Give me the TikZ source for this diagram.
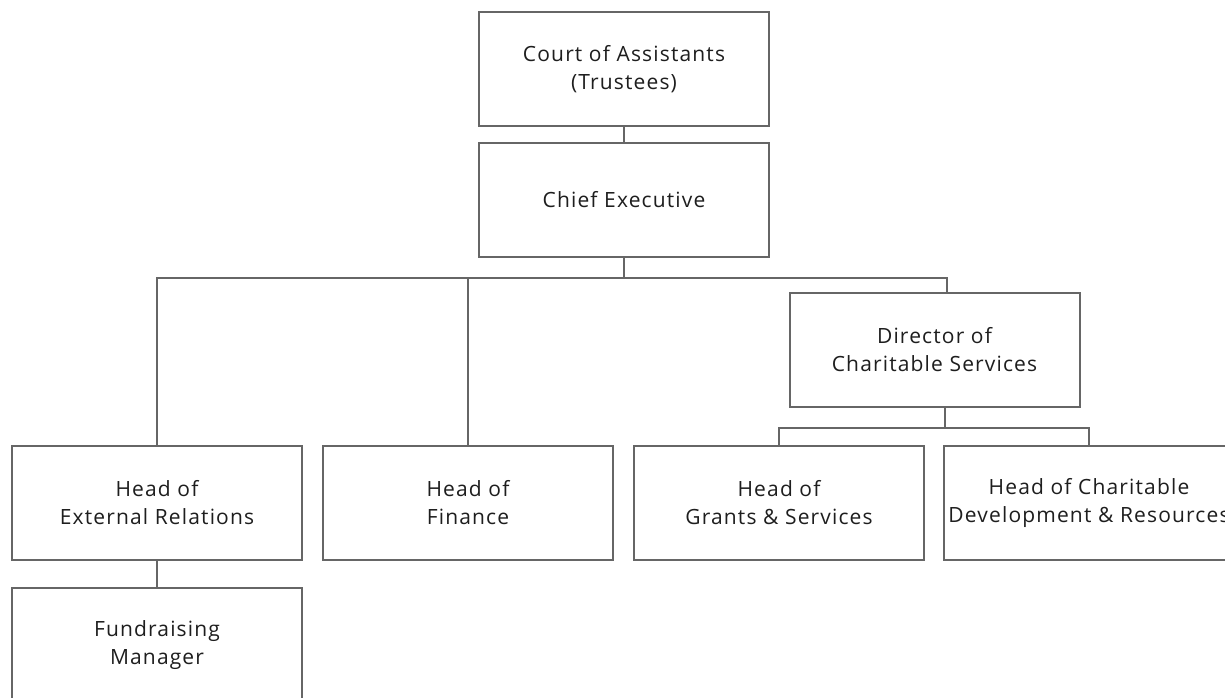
\documentclass[tikz,border=0pt]{standalone}
\usepackage{fontspec}
\setmainfont{Open Sans}[LetterSpace=5.5]
\usetikzlibrary{positioning}
\definecolor{boxline}{HTML}{666666}
\definecolor{boxtext}{HTML}{1E1E1E}
\tikzset{
post/.style={draw=boxline,line width=2pt,minimum width=290pt,minimum height=114pt,inner sep=0pt,align=center,text=boxtext,font=\fontsize{21}{28}\selectfont},
link/.style={draw=boxline,line width=2pt}
}

\begin{document}
\begin{tikzpicture}[x=1pt,y=-1pt]
\useasboundingbox[fill=white](0,0) rectangle (1225,697);
\clip(0,0) rectangle (1225,697);
\node[post](court) at (624,69){Court of Assistants\\(Trustees)};
\node[post,below=15pt of court](ceo){Chief Executive};
\node[post](dir) at (934.5,349.5){Director of\\Charitable Services};
\node[post](ext) at (157,503){Head of\\External Relations};
\node[post,right=19pt of ext](fin){Head of\\Finance};
\node[post,right=19pt of fin](grants){Head of\\Grants \& Services};
\node[post,right=18pt of grants](chardev){Head of Charitable\\Development \& Resources};
\node[post,below=26pt of ext](fund){Fundraising\\Manager};
\draw[link](court)--(ceo);
\draw[link](ceo.south)--++(0,20)coordinate(top bus);
\draw[link](ext.north)|-(top bus)-|([xshift=12pt]dir.north);
\draw[link](fin.north)--(fin.north|-top bus);
\draw[link]([xshift=10pt]dir.south)--++(0,20)coordinate(dir bus);
\draw[link](grants.north)|-(dir bus)-|(chardev.north);
\draw[link](ext)--(fund);
\end{tikzpicture}
\end{document}
